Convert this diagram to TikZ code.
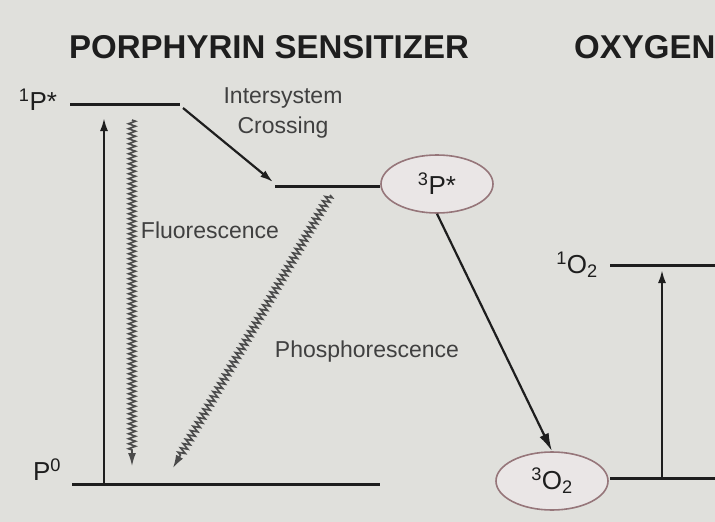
\documentclass[tikz,border=0pt]{standalone}
\usepackage{fontspec}
\setmainfont{Liberation Sans}
\usetikzlibrary{arrows.meta,shapes.geometric,decorations.pathmorphing}
\definecolor{bgpaper}{RGB}{224,224,220}
\definecolor{ringpink}{RGB}{150,118,122}
\definecolor{ringfill}{RGB}{234,230,230}
\definecolor{inkdark}{RGB}{30,30,30}
\tikzset{
  heading/.style={font=\fontsize{33}{33}\selectfont\bfseries,text=inkdark,inner sep=0pt},
  lbl/.style={font=\fontsize{23}{30}\selectfont,text=inkdark!85,inner sep=0pt},
  statelbl/.style={font=\fontsize{26}{26}\selectfont,text=inkdark,inner sep=0pt},
  ring/.style={ellipse,draw=ringpink,fill=ringfill,line width=1.6pt,
    minimum width=112pt,minimum height=58pt,inner sep=0pt,
    font=\fontsize{26}{26}\selectfont,text=inkdark},
  level/.style={line width=3pt,draw=inkdark},
  trans/.style={-{Latex[length=13pt,width=8pt]},line width=2.2pt,draw=inkdark},
  wavy/.style={decorate,decoration={zigzag,segment length=5pt,amplitude=3.5pt,
    post length=14pt},line width=1.6pt,draw=inkdark!80,
    -{Latex[length=13pt,width=8pt]}}
}
\begin{document}
\begin{tikzpicture}[x=1pt,y=-1pt]
  \fill[bgpaper] (0,0) rectangle (715,522);
  \useasboundingbox (0,0) rectangle (715,522);
  % headings
  \node[heading,anchor=west] (hsens) at (69,47) {PORPHYRIN SENSITIZER};
  \node[heading,anchor=west] (hoxy) at (574,47) {OXYGEN};
  % energy levels
  \coordinate (S1a) at (70,104);  \coordinate (S1b) at (180,104);
  \coordinate (T1a) at (275,186); \coordinate (T1b) at (380,186);
  \coordinate (S0a) at (72,484);  \coordinate (S0b) at (380,484);
  \coordinate (Oga) at (610,478); \coordinate (Ogb) at (715,478);
  \coordinate (Oea) at (610,265); \coordinate (Oeb) at (715,265);
  \draw[level] (S1a) -- (S1b);
  \draw[level] (T1a) -- (T1b);
  \draw[level] (S0a) -- (S0b);
  \draw[level] (Oga) -- (Ogb);
  \draw[level] (Oea) -- (Oeb);
  % states
  \node[statelbl] (S1) at (38,100) {\textsuperscript{1}P*};
  \node[statelbl] (S0) at (47,470) {P\textsuperscript{0}};
  \node[ring] (T1) at (437,184) {\textsuperscript{3}P*};
  \node[ring] (Og) at (552,481) {\textsuperscript{3}O\textsubscript{2}};
  \node[statelbl] (Oe) at (577,265) {\textsuperscript{1}O\textsubscript{2}};
  % transitions
  \coordinate (absA) at (104,484); \coordinate (absB) at (104,118);
  \coordinate (flA) at (132,120);  \coordinate (flB) at (132,466);
  \coordinate (iscA) at (183,108); \coordinate (iscB) at (273,182);
  \coordinate (phA) at (330,195);  \coordinate (phB) at (173,468);
  \coordinate (exA) at (662,478);  \coordinate (exB) at (662,270);
  \draw[trans] (absA) -- (absB);
  \draw[wavy] (flA) -- (flB);
  \draw[trans] (iscA) -- (iscB);
  \draw[wavy] (phA) -- (phB);
  \draw[trans,-{Latex[length=18pt,width=10pt]}] (T1.south) -- (Og.north);
  \draw[trans] (exA) -- (exB);
  % labels
  \node[lbl,align=center] (isc) at (283,113) {Intersystem\\Crossing};
  \node[lbl,fill=bgpaper] (fl) at (210,230) {Fluorescence};
  \node[lbl] (ph) at (367,352) {Phosphorescence};
\end{tikzpicture}
\end{document}
